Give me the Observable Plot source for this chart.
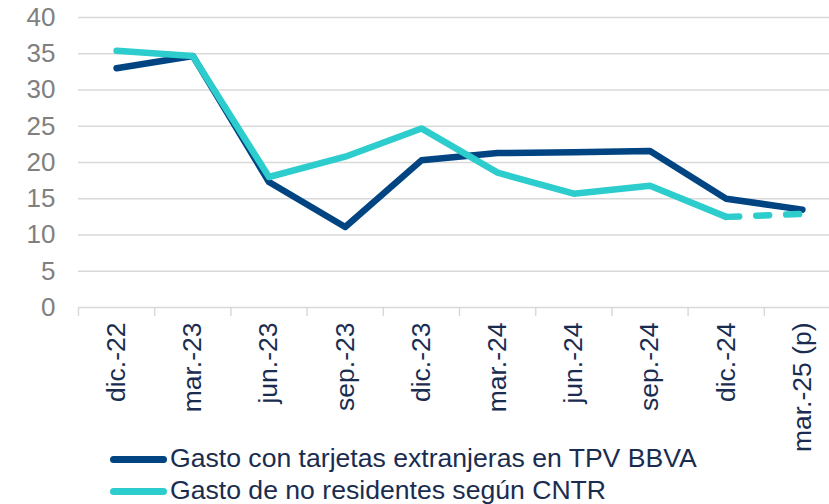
<!DOCTYPE html>
<html>
<head>
<meta charset="utf-8">
<script src="https://cdn.jsdelivr.net/npm/d3@7"></script>
<script src="https://cdn.jsdelivr.net/npm/@observablehq/plot@0.6"></script>
<style>
  html, body { margin: 0; padding: 0; background: #fff; }
  #wrap { position: relative; width: 829px; height: 504px; overflow: hidden; font-family: "Liberation Sans", Arial, sans-serif; }
  #chart { position: absolute; left: 0; top: 0; }
  .lg-line { position: absolute; width: 57px; height: 7px; border-radius: 3.5px; }
  .lg-text { position: absolute; font-size: 26.6px; line-height: 26px; color: #1a2d50; white-space: nowrap; }
</style>
</head>
<body>
<div id="wrap">
  <div id="chart"></div>
  <div class="lg-line" style="left:110px; top:456px; background:#004481;"></div>
  <div class="lg-text" id="lg1" style="left:170px; top:445px;"></div>
  <div class="lg-line" style="left:110px; top:488px; background:#2dcccd;"></div>
  <div class="lg-text" id="lg2" style="left:170px; top:477px;"></div>
</div>
<script>
const categories = ["dic.-22","mar.-23","jun.-23","sep.-23","dic.-23","mar.-24","jun.-24","sep.-24","dic.-24","mar.-25 (p)"];
const tpvBBVA = [33.0, 34.7, 17.3, 11.1, 20.3, 21.3, 21.4, 21.6, 15.0, 13.5];
const cntr = [35.4, 34.7, 18.0, 20.8, 24.7, 18.6, 15.7, 16.8, 12.5, 12.9];
const seriesNames = ["Gasto con tarjetas extranjeras en TPV BBVA", "Gasto de no residentes según CNTR"];
const yTicks = [0, 5, 10, 15, 20, 25, 30, 35, 40];
const provisionalFrom = 8; // dashed from dic.-24 to mar.-25 (p)

const colors = ["#004481", "#2dcccd"];
const idx = categories.map((d, i) => i);
const edges = categories.map((d, i) => i - 0.5).concat([categories.length - 0.5]);
const tpvRows = idx.map(i => ({i, v: tpvBBVA[i]}));
const cntrRows = idx.map(i => ({i, v: cntr[i]}));
const cntrSolid = cntrRows.filter(d => d.i <= provisionalFrom);
const cntrDash = cntrRows.filter(d => d.i >= provisionalFrom);

const chart = Plot.plot({
  width: 829,
  height: 440,
  marginLeft: 78,
  marginRight: -11,
  marginTop: 17,
  marginBottom: 133,
  x: {domain: [-0.5, categories.length - 0.5], label: null},
  y: {domain: [0, 40], label: null},
  style: {fontFamily: "'Liberation Sans', Arial, sans-serif", fontSize: "26px", background: "transparent", overflow: "visible"},
  marks: [
    Plot.ruleY(yTicks, {stroke: "#d9d9d9", strokeWidth: 1.5}),
    Plot.axisY({ticks: yTicks, tickSize: 0, tickPadding: 23, color: "#808080", fontSize: 26, label: null}),
    Plot.axisX({ticks: edges, tickSize: 9, tickFormat: () => "", stroke: "#d9d9d9", strokeWidth: 1.5, label: null}),
    Plot.axisX({ticks: idx, tickSize: 0, tickPadding: 15, tickRotate: -90, tickFormat: i => categories[i], color: "#1a2d50", fontSize: 26.5, label: null}),
    Plot.line(tpvRows, {x: "i", y: "v", stroke: colors[0], strokeWidth: 6.5, strokeLinecap: "round", strokeLinejoin: "round"}),
    Plot.line(cntrSolid, {x: "i", y: "v", stroke: colors[1], strokeWidth: 6.5, strokeLinecap: "round", strokeLinejoin: "round"}),
    Plot.line(cntrDash, {x: "i", y: "v", stroke: colors[1], strokeWidth: 6.5, strokeLinecap: "round", strokeDasharray: "13,17"})
  ]
});
document.getElementById("chart").appendChild(chart);
document.getElementById("lg1").textContent = seriesNames[0];
document.getElementById("lg2").textContent = seriesNames[1];
</script>
</body>
</html>
